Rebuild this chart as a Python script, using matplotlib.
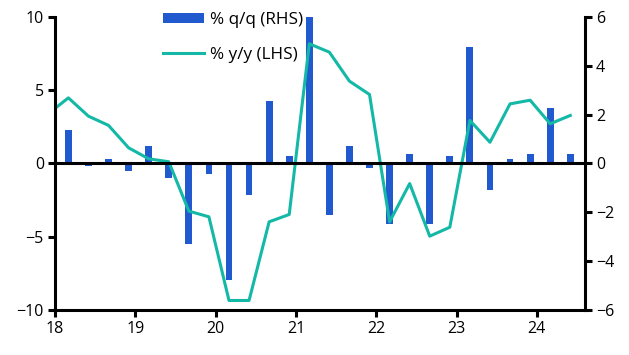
import numpy as np
import matplotlib
matplotlib.use("Agg")
import matplotlib.pyplot as plt

plt.rcParams["font.family"] = ["Open Sans", "DejaVu Sans"]

# quarterly data, 2017 Q4 .. 2024 Q2
years = [2017] + [y for y in range(2018, 2024) for _ in range(4)] + [2024, 2024]
quarters = [4] + [1, 2, 3, 4] * 6 + [1, 2]

yy = [3.4,
      4.48, 3.23, 2.6, 1.07,
      0.32, 0.12, -3.25, -3.64,
      -9.35, -9.35, -3.98, -3.48,
      8.17, 7.6, 5.62, 4.71,
      -3.98, -1.37, -4.96, -4.35,
      2.94, 1.45, 4.07, 4.32,
      2.71, 3.28]

qq = [np.nan,
      1.39, -0.11, 0.2, -0.31,
      0.71, -0.61, -3.31, -0.41,
      -4.77, -1.31, 2.58, 0.3,
      6.0, -2.11, 0.71, -0.2,
      -2.47, 0.37, -2.47, 0.29,
      4.79, -1.09, 0.2, 0.37,
      2.29, 0.37]

x = np.array([(y - 2000) + (q - 1) * 0.25 + 1 / 6 for y, q in zip(years, quarters)])

bar_col = "#2159cf"
line_col = "#14b8a6"

fig = plt.figure(figsize=(6.29, 3.55), dpi=100)
ax = fig.add_axes([55 / 629, 1 - 310 / 355, 530 / 629, 293 / 355])
ax2 = ax.twinx()

ax2.bar(x, qq, width=0.085, color=bar_col, label="% q/q (RHS)")
ax.plot(x, yy, color=line_col, lw=2.2, label="% y/y (LHS)")
ax.axhline(0, color="black", lw=2.2)

ax.set_zorder(ax2.get_zorder() + 1)
ax.patch.set_visible(False)

ax.set_xlim(18, 24.6)
ax.set_ylim(-10, 10)
ax2.set_ylim(-6, 6)
ax.set_xticks(range(18, 25))
ax.set_yticks([-10, -5, 0, 5, 10])
ax2.set_yticks([-6, -4, -2, 0, 2, 4, 6])

for a in (ax, ax2):
    for s in a.spines.values():
        s.set_linewidth(2.2)
    a.spines["top"].set_visible(False)
    a.tick_params(width=2.2, length=5, labelsize=11.5, pad=3)
ax.spines["right"].set_visible(False)
ax2.spines["left"].set_visible(False)
ax2.spines["bottom"].set_visible(False)

h1, l1 = ax2.get_legend_handles_labels()
h2, l2 = ax.get_legend_handles_labels()
ax.legend(h1 + h2, l1 + l2, loc="upper left", bbox_to_anchor=(148 / 629, 1.01),
          bbox_transform=fig.transFigure, frameon=False, fontsize=12.3,
          handlelength=2.4, handleheight=0.55, labelspacing=1.1, handletextpad=0.3)

fig.savefig("out.png", dpi=100)
